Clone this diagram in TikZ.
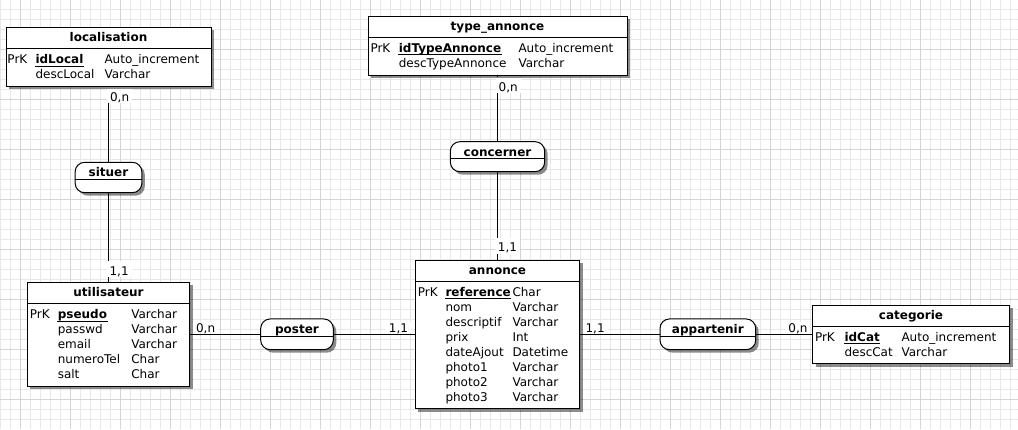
\documentclass[tikz,border=0pt]{standalone}
\usepackage{fontspec}
\setmainfont{DejaVu Sans}
\usetikzlibrary{shadows,backgrounds}
\newcommand\erfont{\fontsize{12}{14}\selectfont}
\begin{document}
\begin{tikzpicture}[x=1pt,y=-1pt,font=\erfont,line width=1pt,
  gridminor/.style={draw=black!9},
  gridmajor/.style={draw=black!17},
  boxshadow/.style={drop shadow={shadow xshift=3pt,shadow yshift=-3pt,fill=black,opacity=0.45}},
  entity/.style={draw=black,fill=white,rectangle,inner sep=0pt,boxshadow},
  assoc/.style={entity,rounded corners=9.5pt},
  txt/.style={inner sep=0pt,anchor=base west},
  keytxt/.style={txt,font=\erfont\bfseries},
  ttl/.style={inner sep=0pt,anchor=base,font=\erfont\bfseries},
  link/.style={draw=black},
  divider/.style={draw=black},
  uline/.style={draw=black,line width=1.2pt},
  cardv/.style={fill=white,inner xsep=3pt,inner ysep=0pt,text height=14pt,text depth=2pt,anchor=base west},
  cardh/.style={fill=white,inner xsep=3pt,inner ysep=0pt,text height=10pt,text depth=0pt,anchor=base west}
]
\useasboundingbox (0,0) rectangle (1018,429);

% ---------- entities ----------
\node[entity,minimum width=205pt,minimum height=59pt] (loc) at (108.5,56.8) {};
\draw[divider] ([yshift=-22pt]loc.north west) -- ([yshift=-22pt]loc.north east);
\node[ttl] (loc-ttl) at (108.5,41.8) {localisation};
\node[txt] (loc-pk) at (7,63.8) {PrK};
\node[keytxt] (loc-k1) at (35,63.8) {idLocal};
\node[txt] (loc-t1) at (104,63.8) {Auto\_increment};
\node[txt] (loc-n2) at (35,78.8) {descLocal};
\node[txt] (loc-t2) at (104,78.8) {Varchar};
\draw[uline] ([yshift=-2.3pt]loc-k1.base west) -- ([yshift=-2.3pt]loc-k1.base east);

\node[entity,minimum width=259pt,minimum height=59pt] (typ) at (497.5,45.5) {};
\draw[divider] ([yshift=-22pt]typ.north west) -- ([yshift=-22pt]typ.north east);
\node[ttl] (typ-ttl) at (497.5,30.5) {type\_annonce};
\node[txt] (typ-pk) at (370,52.5) {PrK};
\node[keytxt] (typ-k1) at (398.3,52.5) {idTypeAnnonce};
\node[txt] (typ-t1) at (518,52.5) {Auto\_increment};
\node[txt] (typ-n2) at (398.3,67.5) {descTypeAnnonce};
\node[txt] (typ-t2) at (518,67.5) {Varchar};
\draw[uline] ([yshift=-2.3pt]typ-k1.base west) -- ([yshift=-2.3pt]typ-k1.base east);

\node[entity,minimum width=162.5pt,minimum height=104pt] (util) at (108.5,334.3) {};
\draw[divider] ([yshift=-22pt]util.north west) -- ([yshift=-22pt]util.north east);
\node[ttl] (util-ttl) at (108.5,296.8) {utilisateur};
\node[txt] (util-pk) at (29.3,318.8) {PrK};
\node[keytxt] (util-k1) at (57.3,318.8) {pseudo};
\node[txt] (util-t1) at (130.8,318.8) {Varchar};
\node[txt] (util-n2) at (57.3,333.8) {passwd};
\node[txt] (util-t2) at (130.8,333.8) {Varchar};
\node[txt] (util-n3) at (57.3,348.8) {email};
\node[txt] (util-t3) at (130.8,348.8) {Varchar};
\node[txt] (util-n4) at (57.3,363.8) {numeroTel};
\node[txt] (util-t4) at (130.8,363.8) {Char};
\node[txt] (util-n5) at (57.3,378.8) {salt};
\node[txt] (util-t5) at (130.8,378.8) {Char};
\draw[uline] ([yshift=-2.3pt]util-k1.base west) -- ([yshift=-2.3pt]util-k1.base east);

\node[entity,minimum width=164.5pt,minimum height=148.5pt] (ann) at (497.5,334.3) {};
\draw[divider] ([yshift=-22pt]ann.north west) -- ([yshift=-22pt]ann.north east);
\node[ttl] (ann-ttl) at (497.5,274.5) {annonce};
\node[txt] (ann-pk) at (417.3,296.5) {PrK};
\node[keytxt] (ann-k1) at (445,296.5) {reference};
\node[txt] (ann-t1) at (512,296.5) {Char};
\node[txt] (ann-n2) at (445,311.5) {nom};
\node[txt] (ann-t2) at (512,311.5) {Varchar};
\node[txt] (ann-n3) at (445,326.5) {descriptif};
\node[txt] (ann-t3) at (512,326.5) {Varchar};
\node[txt] (ann-n4) at (445,341.5) {prix};
\node[txt] (ann-t4) at (512,341.5) {Int};
\node[txt] (ann-n5) at (445,356.5) {dateAjout};
\node[txt] (ann-t5) at (512,356.5) {Datetime};
\node[txt] (ann-n6) at (445,371.5) {photo1};
\node[txt] (ann-t6) at (512,371.5) {Varchar};
\node[txt] (ann-n7) at (445,386.5) {photo2};
\node[txt] (ann-t7) at (512,386.5) {Varchar};
\node[txt] (ann-n8) at (445,401.5) {photo3};
\node[txt] (ann-t8) at (512,401.5) {Varchar};
\draw[uline] ([yshift=-2.3pt]ann-k1.base west) -- ([yshift=-2.3pt]ann-k1.base east);

\node[entity,minimum width=197pt,minimum height=58.5pt] (cat) at (911,334.3) {};
\draw[divider] ([yshift=-22pt]cat.north west) -- ([yshift=-22pt]cat.north east);
\node[ttl] (cat-ttl) at (911,319.5) {categorie};
\node[txt] (cat-pk) at (814.5,341.5) {PrK};
\node[keytxt] (cat-k1) at (844,341.5) {idCat};
\node[txt] (cat-t1) at (901,341.5) {Auto\_increment};
\node[txt] (cat-n2) at (844,356.5) {descCat};
\node[txt] (cat-t2) at (901,356.5) {Varchar};
\draw[uline] ([yshift=-2.3pt]cat-k1.base west) -- ([yshift=-2.3pt]cat-k1.base east);

% ---------- associations ----------
\node[assoc,minimum width=66.7pt,minimum height=30.4pt] (situer) at (108.5,177.5) {};
\draw[divider] ([yshift=-17.5pt]situer.north west) -- ([yshift=-17.5pt]situer.north east);
\node[ttl] (situer-ttl) at (108.5,176.6) {situer};

\node[assoc,minimum width=94.3pt,minimum height=30pt] (concerner) at (497.5,156.7) {};
\draw[divider] ([yshift=-17.5pt]concerner.north west) -- ([yshift=-17.5pt]concerner.north east);
\node[ttl] (concerner-ttl) at (497.5,156) {concerner};

\node[assoc,minimum width=72.6pt,minimum height=30.7pt] (poster) at (297,334.3) {};
\draw[divider] ([yshift=-17.8pt]poster.north west) -- ([yshift=-17.8pt]poster.north east);
\node[ttl] (poster-ttl) at (297,333.3) {poster};

\node[assoc,minimum width=95.7pt,minimum height=30.7pt] (appartenir) at (707.85,334.3) {};
\draw[divider] ([yshift=-17.8pt]appartenir.north west) -- ([yshift=-17.8pt]appartenir.north east);
\node[ttl] (appartenir-ttl) at (707.85,333.3) {appartenir};

% ---------- background: grid, connectors, cardinalities ----------
\begin{scope}[on background layer]
  \foreach \x in {0,10,...,1010} \draw[gridminor] (\x+0.5,0) -- (\x+0.5,429);
  \foreach \y in {10,20,...,420} \draw[gridminor] (0,\y-0.5) -- (1018,\y-0.5);
  \foreach \x in {20,70,...,970} \draw[gridmajor] (\x+0.5,0) -- (\x+0.5,429);
  \foreach \y in {50,100,...,400} \draw[gridmajor] (0,\y-0.5) -- (1018,\y-0.5);

  \draw[link] (loc.south) -- (situer.north);
  \draw[link] (situer.south) -- (util.north);
  \draw[link] (typ.south) -- (concerner.north);
  \draw[link] (concerner.south) -- (ann.north);
  \draw[link] (util.east) -- (poster.west);
  \draw[link] (poster.east) -- (ann.west);
  \draw[link] (ann.east) -- (appartenir.west);
  \draw[link] (appartenir.east) -- (cat.west);

  \node[cardv] (c-loc) at (106.9,101) {0,n};
  \node[cardv] (c-util-s) at (106.4,275) {1,1};
  \node[cardv] (c-typ) at (495.5,91) {0,n};
  \node[cardv] (c-ann-c) at (494.7,251.7) {1,1};
  \node[cardh] (c-util-p) at (192.9,332) {0,n};
  \node[cardh] (c-ann-p) at (385.7,332) {1,1};
  \node[cardh] (c-ann-a) at (582.4,332) {1,1};
  \node[cardh] (c-cat) at (785.2,332) {0,n};
\end{scope}
\end{tikzpicture}
\end{document}
